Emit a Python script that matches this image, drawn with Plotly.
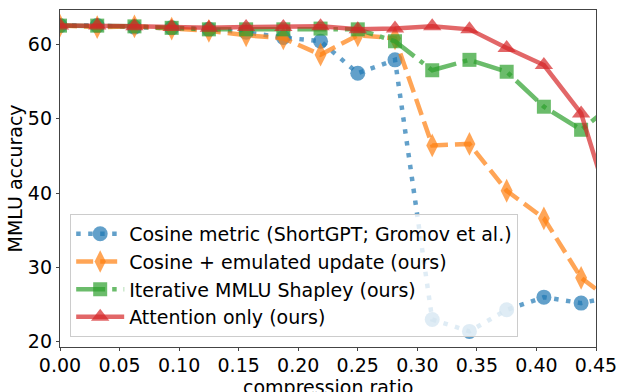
import plotly.graph_objects as go

ratios = [0.0, 0.03125, 0.0625, 0.09375, 0.125, 0.15625, 0.1875, 0.21875,
          0.25, 0.28125, 0.3125, 0.34375, 0.375, 0.40625, 0.4375, 0.46875]

cosine_metric = [62.5, 62.5, 62.3, 62.2, 62.0, 61.6, 60.9, 60.4,
                 56.1, 57.9, 23.0, 21.4, 24.3, 26.0, 25.2, 26.2]
cosine_emulated = [62.5, 62.3, 62.4, 62.1, 61.8, 61.2, 60.8, 58.6,
                   61.2, 60.8, 46.4, 46.6, 40.3, 36.6, 28.6, 24.8]
iterative_shapley = [62.5, 62.5, 62.4, 62.2, 62.0, 62.0, 62.0, 62.1,
                     62.0, 60.4, 56.5, 57.9, 56.3, 51.6, 48.5, 52.5]
attention_only = [62.5, 62.5, 62.4, 62.3, 62.2, 62.3, 62.3, 62.4,
                  62.0, 62.1, 62.4, 62.0, 59.5, 57.2, 50.7, 34.5]

series_names = ["Cosine metric (ShortGPT; Gromov et al.)",
                "Cosine + emulated update (ours)",
                "Iterative MMLU Shapley (ours)",
                "Attention only (ours)"]

x_ticks = [0.0, 0.05, 0.10, 0.15, 0.20, 0.25, 0.30, 0.35, 0.40, 0.45]
y_ticks = [20, 30, 40, 50, 60]

styles = [
    dict(rgb="31,119,180", dash="4.5px,7.5px", symbol="circle", size=15),
    dict(rgb="255,127,14", dash="17px,7px", symbol="diamond-tall", size=17),
    dict(rgb="44,160,44", dash="29px,7px,4.5px,7px", symbol="square", size=14),
    dict(rgb="214,39,40", dash="solid", symbol="triangle-up", size=16),
]

fig = go.Figure()
for name, vals, st in zip(series_names,
                          [cosine_metric, cosine_emulated, iterative_shapley, attention_only],
                          styles):
    fig.add_trace(go.Scatter(
        x=ratios, y=vals, name=name, mode="lines+markers",
        line=dict(color=f"rgba({st['rgb']},0.7)", width=4.5, dash=st["dash"]),
        marker=dict(color=f"rgba({st['rgb']},0.7)", symbol=st["symbol"],
                    size=st["size"], line=dict(width=0)),
    ))

FS = 19
axis_common = dict(showgrid=False, zeroline=False, showline=True, mirror=True,
                   linecolor="#444", linewidth=1.3, ticks="outside", ticklen=3,
                   tickwidth=1.2, tickcolor="#444", automargin=False,
                   tickfont=dict(family="DejaVu Sans", size=FS, color="black"))

fig.update_xaxes(range=[0, 0.45], tickvals=x_ticks, ticklabelstandoff=-2,
                 ticktext=[f"{v:.2f}" for v in x_ticks], **axis_common)
fig.update_yaxes(range=[19.3, 64.6], tickvals=y_ticks, **axis_common)

fig.add_annotation(text="compression ratio", xref="paper", yref="paper",
                   x=0.5, y=-0.12, xanchor="center", yanchor="middle",
                   showarrow=False,
                   font=dict(family="DejaVu Sans", size=FS, color="black"))
fig.add_annotation(text="MMLU accuracy", xref="paper", yref="paper",
                   x=-0.084, y=0.5, xanchor="center", yanchor="middle",
                   textangle=-90, showarrow=False,
                   font=dict(family="DejaVu Sans", size=FS, color="black"))

fig.update_layout(
    width=618, height=392,
    margin=dict(l=60, r=22, t=10, b=45),
    plot_bgcolor="white", paper_bgcolor="white",
    font=dict(family="DejaVu Sans", color="black"),
    legend=dict(x=0.019, y=0.03, xanchor="left", yanchor="bottom",
                bgcolor="rgba(255,255,255,0.8)", bordercolor="#ccc", borderwidth=1,
                font=dict(family="DejaVu Sans", size=FS, color="black"),
                itemwidth=48, tracegroupgap=0),
)

fig.write_html("out.html")
